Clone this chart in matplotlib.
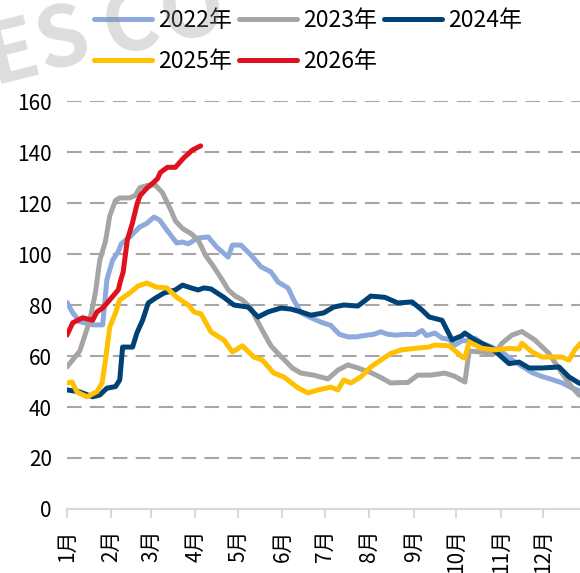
import matplotlib
matplotlib.use("Agg")
import matplotlib.pyplot as plt

plt.rcParams['font.family'] = ['Noto Sans CJK SC', 'DejaVu Sans']

# day of year -> value
d2022 = [0, 4, 9, 18, 25, 26, 28, 32, 36, 38, 44, 51, 56, 61, 65, 70, 77, 81, 85, 92,
         99, 105, 113, 116, 122, 129, 136, 143, 148, 155, 159, 164, 171, 178, 185, 191,
         197, 203, 208, 215, 220, 225, 231, 238, 244, 249, 252, 258, 263, 268, 272, 277,
         282, 286, 291, 298, 305, 312, 319, 326, 333, 340, 347, 354, 361]
v2022 = [81, 77, 73.5, 72.2, 72.2, 78, 90, 97.6, 101, 104, 106.7, 110.6, 112, 114.5, 113.3,
         109.4, 104.3, 104.7, 104, 106.3, 106.7, 102.7, 98.8, 103.5, 103.5, 99.6, 95, 93,
         89, 86.7, 82, 77, 75, 73.3, 72, 68.5, 67.5, 67.5, 68, 68.5, 69.5, 68.5, 68.2, 68.5,
         68.4, 70, 68, 69, 67, 66.5, 64.3, 66, 66, 67, 65, 63.5, 61.5, 58.5, 56, 53.5, 52,
         50.8, 49.5, 47.5, 46]

d2023 = [0, 9, 16, 20, 23, 27, 30, 34, 37, 44, 48, 51, 57, 62, 67, 73, 76, 81, 87, 92,
         97, 102, 108, 113, 118, 123, 129, 132, 137, 143, 149, 154, 158, 164, 173, 183,
         190, 197, 204, 213, 220, 227, 234, 239, 246, 255, 265, 272, 279, 282, 291, 300,
         305, 312, 319, 328, 338, 347, 354, 359, 361]
v2023 = [55.7, 62, 74, 85, 97.6, 105, 115, 121, 122, 122, 123, 126, 127, 127, 124, 117,
         113, 110, 108, 105.5, 99.6, 95.7, 90.6, 86, 83.5, 82, 78.8, 75.3, 70, 64, 60.4,
         57.6, 55.3, 53.3, 52.5, 51, 54.5, 56.5, 55.3, 53.5, 51.6, 49.4, 49.6, 49.6, 52.5,
         52.5, 53.3, 52, 49.8, 62, 61.5, 61, 65, 68.2, 69.6, 66.3, 61, 53.3, 47.8, 44.7, 44.5]

d2024 = [0, 9, 18, 23, 28, 34, 37, 39, 46, 49, 53, 57, 62, 68, 76, 81, 87, 92, 96, 101,
         110, 117, 127, 134, 141, 150, 157, 164, 171, 180, 187, 194, 204, 213, 223, 232,
         242, 249, 254, 263, 270, 277, 279, 286, 298, 310, 317, 324, 333, 345, 352, 359, 361]
v2024 = [46.7, 45.9, 44, 44.7, 47.4, 48, 50.6, 63.5, 63.5, 69, 74, 80.8, 82.7, 84.7, 85.9,
         87.8, 86.7, 85.9, 86.7, 86.3, 83, 80, 79.2, 75.3, 77.3, 78.8, 78.4, 77.3, 76, 76.9,
         79.2, 80, 79.6, 83.5, 83, 80.8, 81.2, 78, 75.3, 74, 66.3, 68, 69, 66.3, 63, 57,
         57.6, 55.3, 55.3, 55.7, 51.8, 49.4, 49]

d2025 = [0, 3.5, 7, 14, 21, 24.6, 27, 30, 34, 37, 44, 50, 56, 63, 70, 77, 85, 89, 94, 101,
         110, 116, 123, 131, 137, 145, 152, 162, 169, 176, 185, 190, 194, 199, 206, 213,
         220, 227, 234.5, 244, 253.5, 258, 268, 273, 277, 279, 282, 291, 300, 310, 317,
         319, 326, 333, 342, 347, 352, 356, 361]
v2025 = [49.4, 49.8, 45.9, 44, 46, 49.4, 58.4, 71.4, 76.9, 82, 84.7, 87.5, 88.6, 87, 86.7,
         83, 80, 77.3, 76.5, 69.4, 66.3, 61.6, 64, 59.6, 58.4, 53.3, 51.8, 47.5, 45.5, 46.7,
         47.8, 46.7, 50.6, 49.4, 51.8, 55.7, 58.4, 61, 62.4, 63, 63.5, 64.3, 64, 61.6, 59.6,
         59.2, 65.5, 63, 62.4, 63, 62.7, 65, 61.6, 59.6, 59.6, 59.6, 58.4, 62.4, 65.5]

d2026 = [0, 4, 11, 18, 21, 25, 30, 36, 37.3, 39.4, 42.3, 45.8, 49.3, 51.4, 56.3, 60.6,
         63.4, 65.5, 70.4, 76, 81.7, 88, 93.7]
v2026 = [68.2, 73, 75, 74, 77.3, 78.8, 82, 86, 89, 93, 105.5, 112, 120, 123, 126, 128,
         129.5, 132, 134, 134, 137.6, 140.8, 142.4]

series = [
    ('2022年', d2022, v2022, '#8eaadc'),
    ('2023年', d2023, v2023, '#a5a5a5'),
    ('2024年', d2024, v2024, '#004276'),
    ('2025年', d2025, v2025, '#ffc000'),
    ('2026年', d2026, v2026, '#e0101e'),
]

month_days = [0, 31, 59, 90, 120, 151, 181, 212, 243, 273, 304, 334]
month_labels = [f'{m}月' for m in range(1, 13)]
yticks = [0, 20, 40, 60, 80, 100, 120, 140, 160]

fig = plt.figure(figsize=(5.8, 5.73), dpi=100)
ax = fig.add_axes([0.1155, 0.1117, 0.8975, 0.712])

lines = {}
for name, d, v, c in series:
    ln, = ax.plot(d, v, color=c, lw=3.6, solid_joinstyle='round',
                  solid_capstyle='round', label=name, zorder=3)
    lines[name] = ln

ax.set_xlim(0, 365)
ax.set_ylim(0, 160)
ax.set_yticks(yticks)
ax.set_xticks(month_days)
ax.set_xticklabels(month_labels, rotation=90, va='top', ha='center')

for y in yticks[1:]:
    ax.axhline(y, color='#a6a6a6', lw=1.5, linestyle=(0, (7, 4)), zorder=1)

for s in ['top', 'right', 'left']:
    ax.spines[s].set_visible(False)
ax.spines['bottom'].set_color('#d9d9d9')
ax.spines['bottom'].set_linewidth(1.5)
ax.spines['bottom'].set_zorder(2)

ax.tick_params(axis='y', length=0, pad=11, labelsize=15)
ax.tick_params(axis='x', length=6.5, width=1.5, color='#d9d9d9', pad=8, labelsize=15)

order = ['2022年', '2025年', '2023年', '2026年', '2024年']
leg = fig.legend([lines[k] for k in order], order, ncol=3, frameon=False,
                 loc='upper left', bbox_to_anchor=(0.147, 1.0), fontsize=16.5,
                 handlelength=2.5, handletextpad=0.3, columnspacing=0.3,
                 labelspacing=0.8, borderaxespad=0)

# faint watermark, partly off the top-left edge
mark = [('E', 12, 54), ('S', 63, 41), ('C', 131, 26), ('O', 192, 12)]
for ch, px, py in mark:
    fig.text(px / 580, 1 - py / 573, ch, fontsize=60, fontweight='semibold',
             color='#909090', alpha=0.3, rotation=14, ha='center', va='center',
             zorder=10)

fig.savefig('out.png', dpi=100)
